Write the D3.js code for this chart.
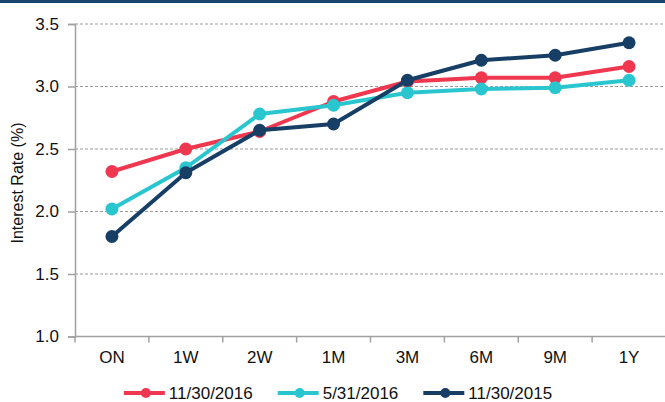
<!DOCTYPE html>
<html>
<head>
<meta charset="utf-8">
<script src="https://cdn.jsdelivr.net/npm/d3@7"></script>
<style>
  body { margin: 0; background: #fff; }
  svg { display: block; font-family: "Liberation Sans", Arial, sans-serif; }
</style>
</head>
<body>
<div id="viz"></div>
<script>
// Tenors on the x axis
var tenors = ["ON", "1W", "2W", "1M", "3M", "6M", "9M", "1Y"];
var yTicks = [1.0, 1.5, 2.0, 2.5, 3.0, 3.5];

// one array per curve date
var nov2016 = [2.32, 2.50, 2.64, 2.88, 3.04, 3.07, 3.07, 3.16];
var may2016 = [2.02, 2.35, 2.78, 2.85, 2.95, 2.98, 2.99, 3.05];
var nov2015 = [1.80, 2.31, 2.65, 2.70, 3.05, 3.21, 3.25, 3.35];

var seriesNames = ["11/30/2016", "5/31/2016", "11/30/2015"];
var seriesColors = ["#f03750", "#2ac6d0", "#173f66"];

var W = 665, H = 402;
// plot area edges (window.top is reserved, hence the prefix)
var plotLeft = 75, plotRight = 666, plotTop = 24, plotBottom = 336.5;
var fontSize = 17;

function main() {
    var series = [nov2016, may2016, nov2015];

    var svg = d3.select("#viz").append("svg")
        .attr("width", W)
        .attr("height", H);

    // dark band along the top
    svg.append("rect")
        .attr("x", 0).attr("y", 0)
        .attr("width", W).attr("height", 3)
        .attr("fill", "#1a4470");

    var x = d3.scaleBand().domain(tenors).range([plotLeft, plotRight]);
    var y = d3.scaleLinear().domain([1, 3.5]).range([plotBottom, plotTop]);

    // dashed gridlines
    svg.append("g").selectAll("line")
        .data(yTicks.filter(function(d) { return d > 1; }))
        .join("line")
        .attr("x1", plotLeft).attr("x2", W)
        .attr("y1", function(d) { return y(d); })
        .attr("y2", function(d) { return y(d); })
        .attr("stroke", "#9a9a9a")
        .attr("stroke-width", 1)
        .attr("stroke-dasharray", "3,2");

    // y axis
    var yAxis = svg.append("g")
        .attr("transform", "translate(" + plotLeft + ",0)")
        .call(d3.axisLeft(y).tickValues(yTicks).tickFormat(d3.format(".1f"))
              .tickSize(7).tickPadding(9));
    yAxis.select(".domain").attr("stroke", "#a0a0a0").attr("stroke-width", 1.5);
    yAxis.selectAll(".tick line").attr("stroke", "#a0a0a0").attr("stroke-width", 1.5);
    yAxis.selectAll(".tick text")
        .attr("font-size", fontSize)
        .attr("font-family", "Liberation Sans, Arial, sans-serif")
        .attr("fill", "#111");

    // x axis: ticks sit on the category boundaries
    var xg = svg.append("g");
    xg.append("line")
        .attr("x1", plotLeft).attr("x2", W)
        .attr("y1", plotBottom).attr("y2", plotBottom)
        .attr("stroke", "#a0a0a0").attr("stroke-width", 1.5);
    xg.selectAll("line.tk")
        .data(tenors)
        .join("line")
        .attr("class", "tk")
        .attr("x1", function(d) { return x(d); })
        .attr("x2", function(d) { return x(d); })
        .attr("y1", plotBottom).attr("y2", plotBottom + 6)
        .attr("stroke", "#a0a0a0").attr("stroke-width", 1.5);
    xg.selectAll("text")
        .data(tenors)
        .join("text")
        .attr("x", function(d) { return x(d) + x.bandwidth() / 2; })
        .attr("y", 363)
        .attr("text-anchor", "middle")
        .attr("font-size", fontSize)
        .attr("fill", "#111")
        .text(function(d) { return d; });

    // axis title
    svg.append("text")
        .attr("transform", "translate(23,183) rotate(-90)")
        .attr("text-anchor", "middle")
        .attr("font-size", 16)
        .attr("fill", "#111")
        .text("Interest Rate (%)");

    var line = d3.line()
        .x(function(d, i) { return x(tenors[i]) + x.bandwidth() / 2; })
        .y(function(d) { return y(d); });

    series.forEach(function(s, k) {
        var g = svg.append("g");
        g.append("path")
            .datum(s)
            .attr("d", line)
            .attr("fill", "none")
            .attr("stroke", seriesColors[k])
            .attr("stroke-width", 4)
            .attr("stroke-linejoin", "round");
        g.selectAll("circle")
            .data(s)
            .join("circle")
            .attr("cx", function(d, i) { return x(tenors[i]) + x.bandwidth() / 2; })
            .attr("cy", function(d) { return y(d); })
            .attr("r", 6.5)
            .attr("fill", seriesColors[k]);
    });

    // legend, laid out from measured text widths and centred
    var legend = svg.append("g");
    var cursor = 0;
    seriesNames.forEach(function(name, k) {
        var it = legend.append("g");
        it.append("line")
            .attr("x1", 0).attr("x2", 41)
            .attr("y1", 0).attr("y2", 0)
            .attr("stroke", seriesColors[k]).attr("stroke-width", 4);
        it.append("circle")
            .attr("cx", 22).attr("cy", 0).attr("r", 5)
            .attr("fill", seriesColors[k]);
        var t = it.append("text")
            .attr("x", 45).attr("y", 6)
            .attr("font-size", fontSize)
            .attr("fill", "#111")
            .text(name);
        var w = 45 + t.node().getComputedTextLength();
        it.attr("transform", "translate(" + cursor + ",0)");
        cursor += w + 25;
    });
    var total = cursor - 25;
    legend.attr("transform", "translate(" + (338 - total / 2) + ",393)");
}

main();
</script>
</body>
</html>
